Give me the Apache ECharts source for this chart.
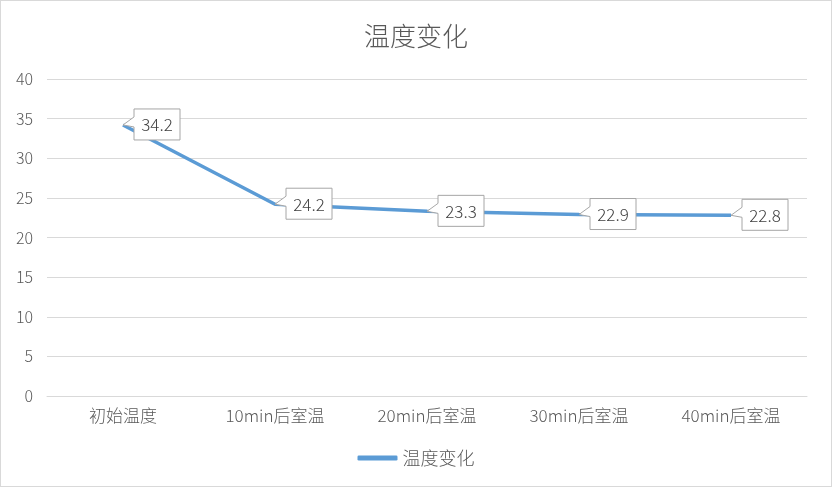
<!DOCTYPE html>
<html><head><meta charset="utf-8">
<script src="https://cdn.jsdelivr.net/npm/echarts@6/dist/echarts.min.js"></script>
<style>
html,body{margin:0;padding:0;background:#fff;}
#c{position:absolute;left:0;top:0;width:830px;height:485px;border:1px solid #d9d9d9;}
</style></head>
<body><div id="c"></div>
<script>
var categories = ['初始温度','10min后室温','20min后室温','30min后室温','40min后室温'];
var values = [34.2, 24.2, 23.3, 22.9, 22.8];
var seriesName = '温度变化';
var titleText = '温度变化';

var font = '"Noto Sans CJK SC", "Microsoft YaHei", sans-serif';
var chart = echarts.init(document.getElementById('c'));
chart.setOption({
  animation:false,
  title:{text:titleText,left:'center',top:17,textStyle:{fontFamily:font,fontSize:26,fontWeight:300,color:'#595959'}},
  legend:{bottom:14,left:'center',itemWidth:40,itemHeight:5,itemGap:4,data:[{name:seriesName,icon:'roundRect'}],
    textStyle:{fontFamily:font,fontSize:18,fontWeight:300,color:'#595959'}},
  grid:{left:46,right:24,top:78,bottom:90},
  xAxis:{type:'category',data:categories,boundaryGap:true,
    axisLine:{show:true,lineStyle:{color:'#d9d9d9',width:1}},axisTick:{show:false},
    axisLabel:{fontFamily:font,fontSize:17,fontWeight:300,color:'#595959',margin:11}},
  yAxis:{type:'value',min:0,max:40,interval:5,
    axisLine:{show:false},axisTick:{show:false},
    splitLine:{lineStyle:{color:'#d9d9d9',width:1}},
    axisLabel:{fontFamily:font,fontSize:16,fontWeight:300,color:'#595959',margin:14}},
  series:[
    {name:seriesName,type:'line',data:values,symbol:'none',lineStyle:{color:'#5B9BD5',width:3.5},itemStyle:{color:'#5B9BD5'},z:2},
    {name:'labels',type:'custom',z:5,clip:false,silent:true,
      data:values.map(function(v,i){return [i,v];}),
      renderItem:function(params,api){
        var p = api.coord([api.value(0),api.value(1)]);
        var x=p[0], y=p[1];
        return {type:'group',x:x,y:y,children:[
          {type:'polygon',shape:{points:[[0,0],[11,-8],[11,-16],[57,-16],[57,15],[11,15],[11,2]]},
            style:{fill:'#fff',stroke:'#a6a6a6',lineWidth:1}},
          {type:'text',x:34,y:0,style:{text:String(api.value(1)),fontFamily:font,fontSize:17,fontWeight:300,fill:'#404040',textAlign:'center',textVerticalAlign:'middle'}}
        ]};
      }
    }
  ]
});
</script></body></html>
